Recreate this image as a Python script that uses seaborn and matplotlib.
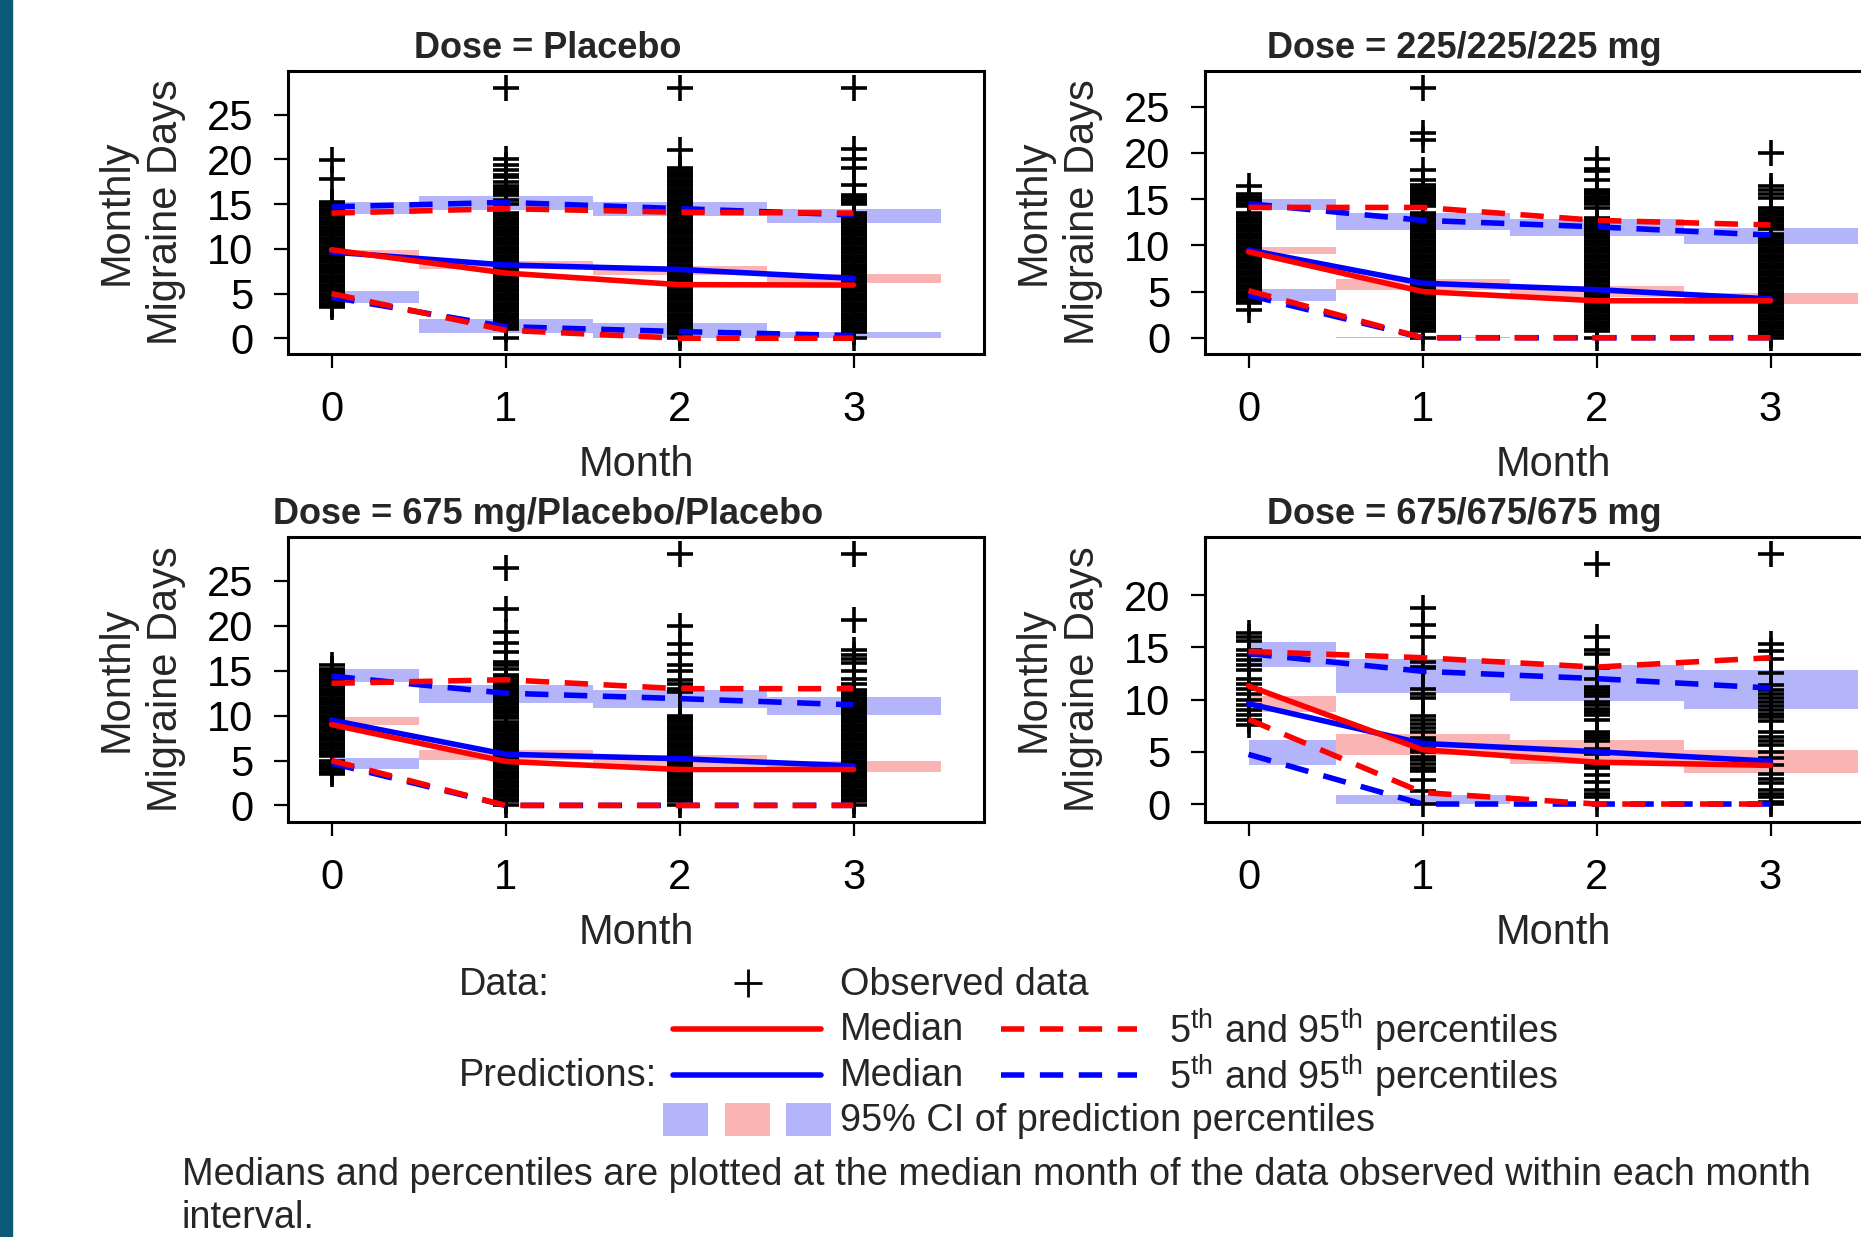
import numpy as np
import pandas as pd
import seaborn as sns
import matplotlib
matplotlib.use("Agg")
import matplotlib.pyplot as plt
from matplotlib.patches import Rectangle
from matplotlib.lines import Line2D

# ---- data ----
doses = ["Placebo", "225/225/225 mg", "675 mg/Placebo/Placebo", "675/675/675 mg"]
months = [0, 1, 2, 3]
bin_edges = [0, 0.5, 1.5, 2.5, 3.5]

obs_median = [[9.9, 7.3, 6.0, 5.95], [9.3, 5.0, 4.0, 4.0], [9.0, 4.9, 4.0, 4.0], [11.3, 5.2, 4.0, 3.7]]
obs_p05 = [[5.0, 0.9, 0, 0], [5.1, 0, 0, 0], [5.0, 0, 0, 0], [8.1, 1.1, 0, 0]]
obs_p95 = [[14.0, 14.5, 14.1, 14.0], [14.1, 14.1, 12.7, 12.2], [13.6, 14.0, 13.0, 13.0], [14.6, 14.0, 13.1, 14.0]]

pred_median = [[9.65, 8.2, 7.7, 6.7], [9.5, 5.9, 5.2, 4.2], [9.5, 5.7, 5.2, 4.4], [9.6, 5.8, 5.0, 4.1]]
pred_p05 = [[4.6, 1.3, 0.75, 0.3], [4.6, 0, 0, 0], [4.7, 0, 0, 0], [4.75, 0, 0, 0]]
pred_p95 = [[14.7, 15.2, 14.5, 13.8], [14.5, 12.7, 12.0, 11.1], [14.4, 12.5, 11.9, 11.2], [14.4, 12.7, 12.0, 11.1]]

ci_med_lo = [[9.2, 7.7, 7.1, 6.2], [9.1, 5.2, 4.4, 3.6], [9.0, 5.1, 4.4, 3.7], [8.8, 4.7, 3.8, 3.0]]
ci_med_hi = [[9.9, 8.7, 8.1, 7.2], [9.8, 6.4, 5.6, 4.8], [9.8, 6.2, 5.6, 4.9], [10.3, 6.7, 6.1, 5.2]]
ci_p05_lo = [[4.0, 0.56, 0, 0], [4.0, 0, 0, 0], [4.0, 0, 0, 0], [3.7, 0, 0, 0]]
ci_p05_hi = [[5.3, 2.2, 1.7, 0.75], [5.3, 0.1, 0, 0], [5.3, 0, 0, 0], [6.1, 0.86, 0, 0]]
ci_p95_lo = [[13.9, 14.3, 13.7, 12.9], [13.8, 11.7, 11.0, 10.1], [13.8, 11.4, 10.8, 10.1], [13.1, 10.6, 9.9, 9.1]]
ci_p95_hi = [[15.3, 15.9, 15.3, 14.5], [15.0, 13.5, 12.8, 11.9], [15.2, 13.4, 12.8, 12.1], [15.5, 13.9, 13.3, 12.8]]

# observed monthly migraine days, one list per month
obs_placebo = [
    [3.5, 3.75, 4, 4.25, 4.5, 4.75, 5, 5.25, 5.5, 5.75, 6, 6.25, 6.5, 6.75, 7, 7.25, 7.5, 7.75,
     8, 8.25, 8.5, 8.75, 9, 9.25, 9.5, 9.75, 10, 10.25, 10.5, 10.75, 11, 11.25, 11.5, 11.75,
     12, 12.25, 12.5, 12.75, 13, 13.25, 13.5, 13.75, 14, 14.25, 14.5, 14.75, 15, 15.25, 17.8, 19.9],
    [0, 1, 1.25, 1.5, 1.75, 2, 2.25, 2.5, 2.75, 3, 3.25, 3.5, 3.75, 4, 4.25, 4.5, 4.75, 5, 5.25,
     5.5, 5.75, 6, 6.25, 6.5, 6.75, 7, 7.25, 7.5, 7.75, 8, 8.25, 8.5, 8.75, 9, 9.25, 9.5, 9.75,
     10, 10.25, 10.5, 10.75, 11, 11.25, 11.5, 11.75, 12, 12.25, 12.5, 12.75, 13, 13.25, 13.5,
     13.75, 14, 15, 15.5, 16, 16.25, 16.5, 16.75, 17, 17.5, 18, 18.3, 18.8, 19.4, 20, 28],
    [0, 0.5, 0.75, 1, 1.25, 1.5, 1.75, 2, 2.25, 2.5, 2.75, 3, 3.25, 3.5, 3.75, 4, 4.25, 4.5, 4.75,
     5, 5.25, 5.5, 5.75, 6, 6.25, 6.5, 6.75, 7, 7.25, 7.5, 7.75, 8, 8.25, 8.5, 8.75, 9, 9.25, 9.5,
     9.75, 10, 10.25, 10.5, 10.75, 11, 11.25, 11.5, 11.75, 12, 12.25, 12.5, 12.75, 13, 13.25, 13.5,
     13.75, 14, 14.25, 14.5, 14.75, 15, 15.25, 15.5, 15.75, 16, 16.25, 16.5, 16.75, 17, 17.25,
     17.5, 17.75, 18, 18.25, 18.5, 18.75, 19, 21.1, 28],
    [0, 0.75, 1, 1.25, 1.5, 1.75, 2, 2.25, 2.5, 2.75, 3, 3.25, 3.5, 3.75, 4, 4.25, 4.5, 4.75, 5,
     5.25, 5.5, 5.75, 6, 6.25, 6.5, 6.75, 7, 7.25, 7.5, 7.75, 8, 8.25, 8.5, 8.75, 9, 9.25, 9.5,
     9.75, 10, 10.25, 10.5, 10.75, 11, 11.25, 11.5, 11.75, 12, 12.25, 12.5, 12.75, 13, 13.25,
     13.5, 13.75, 14, 15, 15.25, 15.5, 15.75, 16, 17.2, 19, 20, 21.2, 28],
]
obs_225 = [
    [3, 3.75, 4, 4.25, 4.5, 4.75, 5, 5.25, 5.5, 5.75, 6, 6.25, 6.5, 6.75, 7, 7.25, 7.5, 7.75, 8,
     8.25, 8.5, 8.75, 9, 9.25, 9.5, 9.75, 10, 10.25, 10.5, 10.75, 11, 11.25, 11.5, 11.75, 12,
     12.25, 12.5, 12.75, 13, 13.25, 13.5, 14.25, 14.5, 14.75, 15, 15.25, 15.5, 16.4],
    [0, 0.75, 1, 1.25, 1.5, 1.75, 2, 2.25, 2.5, 2.75, 3, 3.25, 3.5, 3.75, 4, 4.25, 4.5, 4.75, 5,
     5.25, 5.5, 5.75, 6, 6.25, 6.5, 6.75, 7, 7.25, 7.5, 7.75, 8, 8.25, 8.5, 8.75, 9, 9.25, 9.5,
     9.75, 10, 10.25, 10.5, 10.75, 11, 11.25, 11.5, 11.75, 12, 12.25, 12.5, 12.75, 13, 13.25,
     13.5, 14.25, 14.5, 14.75, 15, 15.25, 15.5, 15.75, 16, 16.25, 16.5, 17.1, 18.2, 21.4, 22.1, 27],
    [0, 0.75, 1, 1.25, 1.5, 1.75, 2, 2.25, 2.5, 2.75, 3, 3.25, 3.5, 3.75, 4, 4.25, 4.5, 4.75, 5,
     5.25, 5.5, 5.75, 6, 6.25, 6.5, 6.75, 7, 7.25, 7.5, 7.75, 8, 8.25, 8.5, 8.75, 9, 9.25, 9.5,
     9.75, 10, 10.25, 10.5, 10.75, 11, 11.25, 11.5, 11.75, 12, 12.25, 12.5, 12.75, 13, 14,
     14.5, 14.75, 15, 15.25, 15.5, 15.75, 16, 17.1, 18, 18.3, 19.3],
    [0, 0.25, 0.5, 0.75, 1, 1.25, 1.5, 1.75, 2, 2.25, 2.5, 2.75, 3, 3.25, 3.5, 3.75, 4, 4.25, 4.5,
     4.75, 5, 5.25, 5.5, 5.75, 6, 6.25, 6.5, 6.75, 7, 7.25, 7.5, 7.75, 8, 8.25, 8.5, 8.75, 9,
     9.25, 9.5, 9.75, 10, 10.25, 10.5, 10.75, 11, 11.25, 11.75, 12, 12.25, 12.5, 12.75, 13,
     13.25, 13.5, 13.75, 14, 15.1, 15.6, 16, 16.4, 20],
]
obs_675_pbo = [
    [3.5, 3.75, 4, 4.25, 4.5, 4.75, 5, 5.5, 5.75, 6, 6.25, 6.5, 6.75, 7, 7.25, 7.5, 7.75, 8, 8.25,
     8.5, 8.75, 9, 9.25, 9.5, 9.75, 10, 10.25, 10.5, 10.75, 11, 11.25, 11.5, 11.75, 12, 12.25,
     12.5, 12.75, 13, 13.25, 13.5, 13.75, 14, 14.25, 14.5, 14.75, 15, 15.25, 15.6],
    [0, 0.5, 0.75, 1, 1.25, 1.5, 1.75, 2, 2.25, 2.5, 2.75, 3, 3.25, 3.5, 3.75, 4, 4.25, 4.5, 4.75,
     5, 5.25, 5.5, 5.75, 6, 6.25, 6.5, 6.75, 7, 7.25, 7.5, 7.75, 8, 8.25, 8.5, 8.75, 9, 9.25,
     9.75, 10, 10.25, 10.5, 10.75, 11, 11.25, 11.5, 11.75, 12, 12.25, 12.5, 12.75, 13, 13.25,
     13.5, 13.75, 14, 14.25, 14.5, 15.2, 15.6, 16, 17.1, 18.1, 19.3, 21.9, 26.4],
    [0, 0.5, 0.75, 1, 1.25, 1.5, 1.75, 2, 2.25, 2.5, 2.75, 3, 3.25, 3.5, 3.75, 4, 4.25, 4.5, 4.75,
     5, 5.25, 5.5, 5.75, 6, 6.25, 6.5, 6.75, 7, 7.25, 7.5, 7.75, 8, 8.25, 8.5, 8.75, 9, 9.25,
     9.5, 9.75, 10, 12.6, 13, 13.5, 14, 15, 15.6, 16.9, 18, 20, 28],
    [0, 0.5, 0.75, 1, 1.25, 1.5, 1.75, 2, 2.25, 2.5, 2.75, 3, 3.25, 3.5, 3.75, 4, 4.25, 4.5, 4.75,
     5, 5.25, 5.5, 5.75, 6, 6.25, 6.5, 6.75, 7, 7.25, 7.5, 7.75, 8, 8.25, 8.5, 8.75, 9, 9.25,
     9.5, 9.75, 10, 10.25, 10.5, 10.75, 11, 11.25, 11.5, 11.75, 12, 12.25, 12.5, 12.9, 13.5,
     14.1, 15, 15.9, 16.3, 16.7, 17.3, 20.7, 28],
]
obs_675 = [
    [7.6, 8, 8.5, 9, 9.5, 10, 10.5, 11, 11.5, 12, 12.8, 13.3, 13.8, 14.3, 14.7, 15.6, 16, 16.4],
    [0, 1.2, 2.3, 3.2, 3.4, 3.8, 4.2, 4.5, 5, 5.3, 5.6, 6, 6.3, 6.9, 7.3, 7.7, 8, 8.4, 10.1, 10.5,
     11, 13, 13.1, 13.6, 16, 17.1, 18.8],
    [0, 0.7, 1, 1.3, 2.1, 2.8, 3.4, 3.7, 4, 4.8, 5.3, 6, 6.3, 6.6, 6.9, 8, 8.5, 8.8, 9.1, 9.5, 9.8,
     10.3, 10.6, 10.9, 11.2, 12, 13, 14.4, 14.7, 16, 23],
    [0, 0.2, 0.7, 1, 1.3, 2, 2.4, 2.9, 3.7, 4.4, 5, 5.6, 6, 6.4, 6.9, 7.9, 8.3, 8.6, 9, 9.4, 9.8,
     10.1, 10.5, 10.9, 11.4, 12.5, 13.9, 14.6, 15.3, 23.9],
]
observed = [obs_placebo, obs_225, obs_675_pbo, obs_675]

y_limits = [(-1.76, 29.9), (-1.76, 28.86), (-1.85, 29.9), (-1.72, 25.55)]
y_ticks = [[0, 5, 10, 15, 20, 25]] * 3 + [[0, 5, 10, 15, 20]]

# ---- style ----
sns.set_style("ticks")
plt.rcParams['font.family'] = ['Liberation Sans', 'DejaVu Sans']
plt.rcParams['mathtext.fontset'] = 'custom'
plt.rcParams['mathtext.rm'] = 'Liberation Sans'
plt.rcParams['mathtext.it'] = 'Liberation Sans:italic'

BLUE_BOX = '#b4b4fa'
PINK_BOX = '#fbb4b4'
LW = 4.0
DASH = (0, (4.2, 2.8))
W, H = 1861, 1237

fig = plt.figure(figsize=(W / 100, H / 100), dpi=100)
fig.patches.append(Rectangle((0, 0), 12 / W, 1, transform=fig.transFigure,
                             color='#0b5a78', zorder=10))

# axes boxes in pixels (left, top, width, height)
boxes = [(288, 71, 696, 283), (1205, 71, 696, 283), (288, 537, 696, 285), (1205, 537, 696, 285)]


def line(ax, y, color, dashed, z):
    sns.lineplot(x=months, y=y, color=color, ax=ax)
    ln = ax.lines[-1]
    ln.set_linewidth(LW)
    ln.set_zorder(z)
    if dashed:
        ln.set_linestyle(DASH)


def draw_panel(ax, i):
    lefts = bin_edges[:-1]
    widths = np.diff(bin_edges)
    for lo, hi, col in [(ci_p95_lo[i], ci_p95_hi[i], BLUE_BOX),
                        (ci_p05_lo[i], ci_p05_hi[i], BLUE_BOX),
                        (ci_med_lo[i], ci_med_hi[i], PINK_BOX)]:
        ax.bar(lefts, np.array(hi) - np.array(lo), bottom=lo, width=widths, align='edge',
               color=col, linewidth=0, zorder=0.5)

    obs = observed[i]
    df = pd.DataFrame({"Month": np.repeat(months, [len(v) for v in obs]),
                       "MMD": np.concatenate(obs)})
    sns.scatterplot(data=df, x="Month", y="MMD", marker="+", s=330, color="black",
                    ax=ax, legend=False)
    pts = ax.collections[-1]
    pts.set_linewidth(2.6)
    pts.set_zorder(2)

    line(ax, pred_p05[i], 'blue', True, 3)
    line(ax, pred_p95[i], 'blue', True, 3)
    line(ax, pred_median[i], 'blue', False, 3)
    line(ax, obs_p05[i], 'red', True, 4)
    line(ax, obs_p95[i], 'red', True, 4)
    line(ax, obs_median[i], 'red', False, 4)

    ax.set_xlim(-0.25, 3.75)
    ax.set_ylim(*y_limits[i])
    ax.set_xticks(months)
    ax.set_xticklabels([str(m) for m in months])
    ax.set_yticks(y_ticks[i])
    ax.tick_params(axis='both', direction='out', length=10, width=1.6, colors='black',
                   labelsize=30)
    ax.tick_params(axis='y', pad=15)
    ax.tick_params(axis='x', pad=16)
    for s in ax.spines.values():
        s.set_visible(True)
        s.set_linewidth(2.2)
        s.set_color('black')
    ax.set_xlabel("Month", fontsize=30, labelpad=11)
    ax.set_ylabel("Monthly\nMigraine Days", fontsize=30, labelpad=15, linespacing=1.3)
    ax.set_title(f"Dose = {doses[i]}", fontsize=26, fontweight='bold', x=0.373, pad=9)


for i, (l, t, w, h) in enumerate(boxes):
    ax = fig.add_axes([l / W, 1 - (t + h) / H, w / W, h / H])
    draw_panel(ax, i)

# ---- legend, drawn in pixel coordinates ----
lax = fig.add_axes([0, 0, 1, 1], zorder=-1)
lax.set_xlim(0, W)
lax.set_ylim(H, 0)
lax.axis('off')

FS = 27.3
lax.text(459, 985, "Data:", fontsize=FS, va='center')
lax.plot([748], [983], marker='+', markersize=20, markeredgewidth=2, color='black')
lax.text(840, 985, "Observed data", fontsize=FS, va='center')
pct = r"5$^{\mathrm{th}}$ and 95$^{\mathrm{th}}$ percentiles"
for y, col in [(1029, 'red'), (1075, 'blue')]:
    lax.add_line(Line2D([673, 821], [y, y], color=col, linewidth=4))
    lax.add_line(Line2D([1001, 1137], [y, y], color=col, linewidth=4, linestyle=(0, (4.2, 2.8))))
    lax.text(840, y + 1.5, "Median", fontsize=FS, va='center')
    lax.text(1169, y + 1.5, pct, fontsize=FS, va='center')
lax.text(459, 1076.5, "Predictions:", fontsize=FS, va='center')
for x0, col in [(663, BLUE_BOX), (725, PINK_BOX), (786, BLUE_BOX)]:
    lax.add_patch(Rectangle((x0, 1103), 45, 33, color=col, linewidth=0))
lax.text(840, 1121, "95% CI of prediction percentiles", fontsize=FS, va='center')
lax.text(182, 1175, "Medians and percentiles are plotted at the median month of the data observed within each month",
         fontsize=FS, va='center')
lax.text(182, 1218, "interval.", fontsize=FS, va='center')

fig.savefig("out.png", dpi=100)
